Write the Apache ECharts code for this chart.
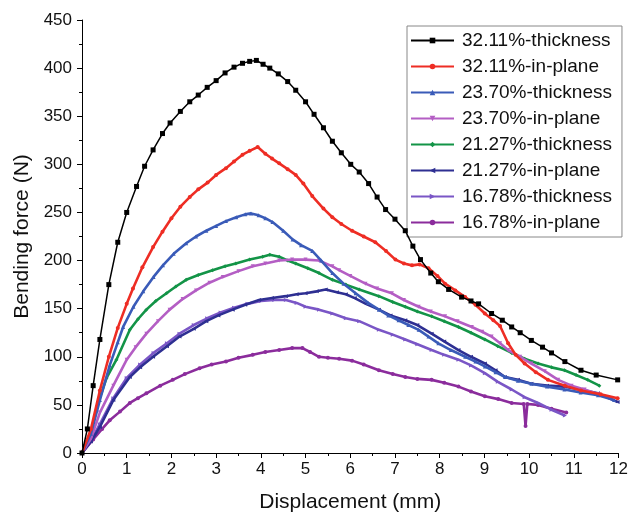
<!DOCTYPE html>
<html>
<head>
<meta charset="utf-8">
<script src="https://cdn.jsdelivr.net/npm/echarts@6/dist/echarts.min.js"></script>
<style>
html, body { margin: 0; padding: 0; background: #fff; }
#chart { width: 631px; height: 519px; }
</style>
</head>
<body>
<div id="chart"></div>
<script>
// series names, same order as legend
var names = [
  '32.11%-thickness',
  '32.11%-in-plane',
  '23.70%-thickness',
  '23.70%-in-plane',
  '21.27%-thickness',
  '21.27%-in-plane',
  '16.78%-thickness',
  '16.78%-in-plane'
]

// [displacement (mm), bending force (N)]
var t3211 = [[0,0],[0.12,25],[0.25,70],[0.4,118],[0.6,175],[0.8,219],[1.0,250],[1.22,277],[1.4,298],[1.59,315],[1.8,332],[1.97,343],[2.2,355],[2.41,365],[2.6,372],[2.8,380],[3.0,387],[3.2,395],[3.4,401],[3.59,405],[3.75,407],[3.9,408],[4.05,404],[4.2,400],[4.39,394],[4.6,386],[4.78,377],[5.0,365],[5.19,352],[5.4,338],[5.6,324],[5.8,312],[6.01,300],[6.2,292],[6.41,280],[6.6,266],[6.79,253],[7.0,243],[7.23,231],[7.4,215],[7.57,201],[7.8,187],[7.97,178],[8.2,170],[8.49,162],[8.7,158],[8.87,155],[9.16,145],[9.4,138],[9.61,131],[9.8,125],[10.05,117],[10.3,110],[10.5,104],[10.8,95],[11.16,86],[11.5,81],[11.98,76]]
var p3211 = [[0,0],[0.2,25],[0.4,65],[0.6,100],[0.8,130],[1.0,155],[1.14,171],[1.35,193],[1.59,214],[1.8,230],[2.0,244],[2.2,256],[2.41,266],[2.6,274],[2.81,281],[3.0,289],[3.22,296],[3.4,303],[3.59,310],[3.75,314],[3.93,318],[4.1,311],[4.25,306],[4.41,301],[4.6,295],[4.78,289],[4.95,280],[5.15,267],[5.4,254],[5.6,245],[5.8,238],[6.04,231],[6.3,225],[6.56,219],[6.8,210],[7.01,201],[7.2,197],[7.38,195],[7.55,196],[7.75,192],[7.95,184],[8.12,176],[8.35,169],[8.57,162],[8.8,154],[9.01,145],[9.2,138],[9.35,132],[9.53,114],[9.7,102],[9.9,93],[10.15,84],[10.42,76],[10.8,70],[11.16,65],[11.6,61],[11.98,57]]
var t2370 = [[0,0],[0.2,20],[0.4,55],[0.62,91],[0.8,115],[0.92,131],[1.15,152],[1.37,168],[1.6,183],[1.81,195],[2.05,207],[2.33,218],[2.55,225],[2.78,231],[3.0,236],[3.22,241],[3.45,245],[3.65,248],[3.78,249],[3.95,247],[4.1,244],[4.26,240],[4.5,231],[4.71,222],[4.9,216],[5.15,210],[5.35,200],[5.6,187],[5.85,176],[6.12,166],[6.4,156],[6.64,149],[6.85,143],[7.08,138],[7.3,133],[7.53,128],[7.75,121],[7.97,114],[8.25,107],[8.57,100],[8.8,95],[9.01,90],[9.25,84],[9.46,79],[9.75,75],[10.05,72],[10.4,69],[10.79,66],[11.15,63],[11.54,60],[11.9,55]]
var p2370 = [[0,0],[0.2,15],[0.4,42],[0.7,70],[1.0,97],[1.2,110],[1.44,124],[1.7,137],[1.96,149],[2.25,160],[2.55,169],[2.85,177],[3.15,183],[3.5,189],[3.82,194],[4.1,197],[4.41,200],[4.7,201],[5.0,201],[5.3,200],[5.6,194],[5.75,190],[6.0,184],[6.34,176],[6.6,171],[6.93,166],[7.2,159],[7.53,152],[7.8,147],[8.12,142],[8.4,137],[8.72,131],[8.95,126],[9.16,121],[9.35,114],[9.53,107],[9.8,100],[10.05,93],[10.35,85],[10.65,76],[10.95,70],[11.24,66],[11.55,61],[11.83,57]]
var t2127 = [[0,0],[0.2,22],[0.36,52],[0.55,78],[0.77,97],[1.07,128],[1.25,139],[1.44,149],[1.65,158],[1.89,166],[2.1,173],[2.33,180],[2.6,185],[2.92,190],[3.2,194],[3.44,197],[3.75,201],[4.04,204],[4.2,206],[4.41,204],[4.6,200],[4.78,197],[5.05,192],[5.3,187],[5.6,180],[5.9,175],[6.2,170],[6.64,163],[6.95,157],[7.23,152],[7.5,147],[7.82,142],[8.1,137],[8.42,131],[8.7,125],[9.01,118],[9.3,111],[9.61,104],[9.9,98],[10.2,93],[10.5,89],[10.79,86],[11.05,81],[11.31,76],[11.57,70]]
var p2127 = [[0,0],[0.2,12],[0.4,27],[0.7,55],[1.07,79],[1.3,89],[1.59,100],[1.9,111],[2.18,121],[2.5,129],[2.78,137],[3.05,143],[3.37,149],[3.65,154],[3.96,159],[4.25,161],[4.56,163],[4.8,165],[5.0,166],[5.25,168],[5.45,170],[5.7,167],[5.9,165],[6.1,161],[6.35,155],[6.64,149],[6.9,143],[7.23,138],[7.5,133],[7.82,124],[8.1,116],[8.42,107],[8.7,100],[9.01,93],[9.25,86],[9.46,79],[9.75,76],[10.05,72],[10.4,70],[10.79,69],[11.15,66],[11.54,62],[11.98,53]]
var t1678 = [[0,0],[0.2,13],[0.4,30],[0.7,57],[1.0,78],[1.3,92],[1.6,104],[1.9,114],[2.18,124],[2.5,133],[2.8,140],[3.1,146],[3.4,151],[3.7,155],[4.0,158],[4.3,159],[4.56,159],[4.8,156],[5.0,152],[5.3,149],[5.6,145],[5.9,140],[6.2,137],[6.64,128],[6.95,123],[7.23,118],[7.5,113],[7.82,107],[8.1,102],[8.42,97],[8.7,91],[9.01,83],[9.3,74],[9.61,66],[9.9,58],[10.2,52],[10.5,45],[10.8,39]]
var p1678 = [[0,0],[0.25,14],[0.45,25],[0.62,34],[0.85,43],[1.07,52],[1.25,57],[1.44,62],[1.75,70],[2.03,76],[2.3,82],[2.63,88],[2.9,92],[3.22,95],[3.5,99],[3.82,102],[4.1,105],[4.41,107],[4.7,109],[4.93,109],[5.1,105],[5.3,100],[5.5,99],[5.75,98],[6.04,96],[6.3,92],[6.64,86],[6.95,82],[7.23,79],[7.5,77],[7.82,76],[8.1,73],[8.42,69],[8.7,64],[9.01,59],[9.31,56],[9.61,52],[9.88,51],[9.92,28],[9.96,51],[10.2,50],[10.5,46],[10.83,42]]

var allData = [t3211, p3211, t2370, p2370, t2127, p2127, t1678, p1678]

var colors = ['#000000', '#ee2d24', '#3a5bb8', '#b45ec4', '#139447', '#2e2f92', '#7a56c6', '#8b2c9c']
var symbols = [
  'rect',
  'circle',
  'triangle',
  'path://M0,0L10,0L5,10Z',   // down
  'diamond',
  'path://M0,5L10,0L10,10Z',  // left
  'path://M10,5L0,0L0,10Z',   // right
  'circle'
]

var font = '"Liberation Sans", Arial, sans-serif'

var series = []
for (var i = 0; i < names.length; i++) {
  series.push({
    name: names[i],
    type: 'line',
    data: allData[i],
    symbol: symbols[i],
    symbolSize: i === 0 ? 5 : 4,
    showSymbol: true,
    lineStyle: { width: i === 0 ? 1.5 : 2.6, color: colors[i] },
    itemStyle: { color: colors[i] },
    animation: false,
    z: 10 - i
  })
}

var chart = echarts.init(document.getElementById('chart'))
chart.setOption({
  backgroundColor: '#fff',
  animation: false,
  grid: { left: 82, right: 10, top: 20, bottom: 66 },
  legend: {
    orient: 'vertical',
    left: 407,
    top: 26,
    data: names,
    itemWidth: 43,
    itemHeight: 7,
    itemGap: 7,
    padding: [5, 10, 5, 3],
    borderColor: '#888',
    borderWidth: 1,
    textStyle: { fontFamily: font, fontSize: 19, color: '#111', lineHeight: 18, padding: [0, 0, 0, 3] }
  },
  xAxis: {
    type: 'value',
    min: 0,
    max: 12,
    interval: 1,
    name: 'Displacement (mm)',
    nameLocation: 'middle',
    nameGap: 39,
    nameTextStyle: { fontFamily: font, fontSize: 21, color: '#111' },
    axisLine: { lineStyle: { color: '#000', width: 1 } },
    axisTick: { length: 5, lineStyle: { color: '#000' } },
    minorTick: { show: true, splitNumber: 2, length: 3, lineStyle: { color: '#000' } },
    axisLabel: { fontFamily: font, fontSize: 17, color: '#111', margin: 8 },
    splitLine: { show: false }
  },
  yAxis: {
    type: 'value',
    min: 0,
    max: 450,
    interval: 50,
    name: 'Bending force (N)',
    nameLocation: 'middle',
    nameGap: 48,
    nameTextStyle: { fontFamily: font, fontSize: 21, color: '#111' },
    axisLine: { show: true, lineStyle: { color: '#000', width: 1 } },
    axisTick: { show: true, length: 5, lineStyle: { color: '#000' } },
    minorTick: { show: true, splitNumber: 2, length: 3, lineStyle: { color: '#000' } },
    axisLabel: { fontFamily: font, fontSize: 17, color: '#111', margin: 10 },
    splitLine: { show: false }
  },
  series: series
})
</script>
</body>
</html>
